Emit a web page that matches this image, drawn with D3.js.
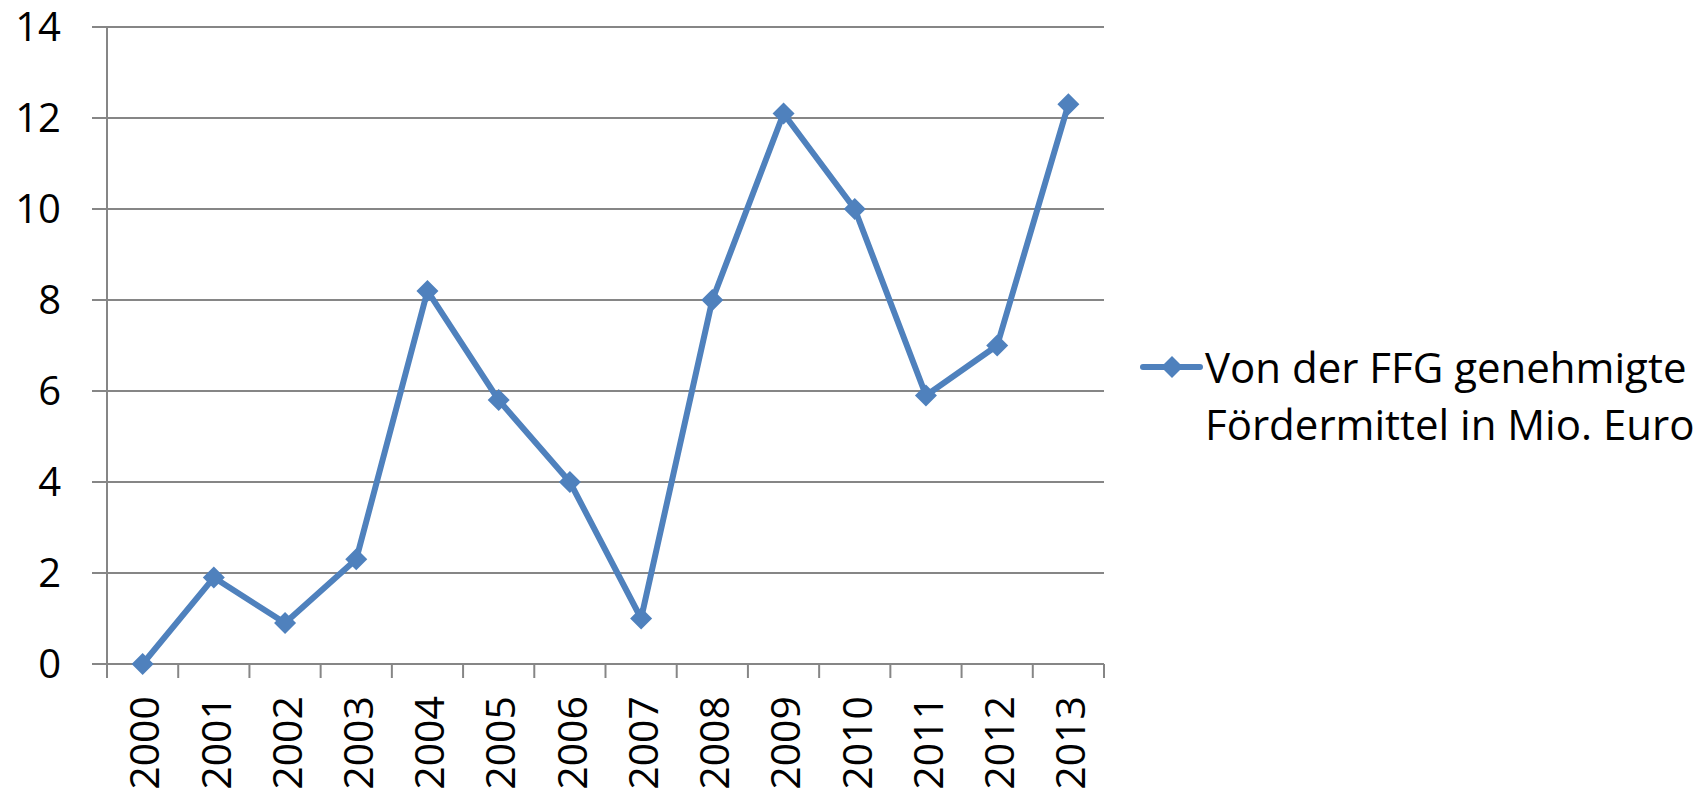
<!DOCTYPE html>
<html lang="de">
<head>
<meta charset="utf-8">
<title>FFG Fördermittel</title>
<script src="https://d3js.org/d3.v7.min.js"></script>
<style>
    body { margin: 0; background: #fff; }
    svg text { font-family: "Open Sans", sans-serif; fill: #000; }
</style>
</head>
<body>
<div id="chart"></div>
<script>
    // Data
    const years = ["2000", "2001", "2002", "2003", "2004", "2005", "2006",
                   "2007", "2008", "2009", "2010", "2011", "2012", "2013"];
    const values = [0, 1.9, 0.9, 2.3, 8.2, 5.8, 4.0, 1.0, 8.0, 12.1, 10.0, 5.9, 7.0, 12.3];
    const yTicks = [0, 2, 4, 6, 8, 10, 12, 14];
    const legendLines = ["Von der FFG genehmigte", "Fördermittel in Mio. Euro"];

    const W = 1708, H = 793;
    const plot = { left: 107, right: 1104, top: 27, bottom: 664 };
    const blue = "#4f81bd";
    const grey = "#868686";

    const svg = d3.select("#chart").append("svg")
        .attr("width", W)
        .attr("height", H);

    const x = d3.scaleBand()
        .domain(years)
        .range([plot.left, plot.right]);

    const y = d3.scaleLinear()
        .domain([0, 14])
        .range([plot.bottom, plot.top]);

    // Gridlines + y ticks (the tick extends past the axis to the left)
    svg.append("g")
        .selectAll("line")
        .data(yTicks)
        .join("line")
        .attr("x1", plot.left - 15)
        .attr("x2", plot.right)
        .attr("y1", d => y(d))
        .attr("y2", d => y(d))
        .attr("stroke", grey)
        .attr("stroke-width", 2);

    // y axis line
    svg.append("line")
        .attr("x1", plot.left).attr("x2", plot.left)
        .attr("y1", plot.top).attr("y2", plot.bottom)
        .attr("stroke", grey)
        .attr("stroke-width", 2);

    // x tick marks at category boundaries
    const bounds = years.map(d => x(d)).concat([plot.right]);
    svg.append("g")
        .selectAll("line")
        .data(bounds)
        .join("line")
        .attr("x1", d => d).attr("x2", d => d)
        .attr("y1", plot.bottom).attr("y2", plot.bottom + 14)
        .attr("stroke", grey)
        .attr("stroke-width", 2);

    // y labels
    svg.append("g")
        .selectAll("text")
        .data(yTicks)
        .join("text")
        .attr("x", 61)
        .attr("y", d => y(d))
        .attr("dy", "0.36em")
        .attr("text-anchor", "end")
        .style("font-size", "40px")
        .text(d => d);

    // x labels, rotated
    svg.append("g")
        .selectAll("text")
        .data(years)
        .join("text")
        .attr("transform", d => `translate(${x(d) + x.bandwidth() / 2 + 2},696) rotate(-90)`)
        .attr("dy", "0.36em")
        .attr("text-anchor", "end")
        .style("font-size", "41px")
        .text(d => d);

    // line + markers
    const line = d3.line()
        .x((d, i) => x(years[i]) + x.bandwidth() / 2)
        .y(d => y(d));

    svg.append("path")
        .datum(values)
        .attr("fill", "none")
        .attr("stroke", blue)
        .attr("stroke-width", 6)
        .attr("stroke-linejoin", "round")
        .attr("d", line);

    const diamond = "M0,-11L11,0L0,11L-11,0Z";
    svg.append("g")
        .selectAll("path")
        .data(values)
        .join("path")
        .attr("transform", (d, i) => `translate(${x(years[i]) + x.bandwidth() / 2},${y(d)})`)
        .attr("d", diamond)
        .attr("fill", blue);

    // legend
    const legend = svg.append("g").attr("transform", "translate(1143,367)");
    legend.append("line")
        .attr("x1", 0).attr("x2", 57)
        .attr("stroke", blue)
        .attr("stroke-width", 6)
        .attr("stroke-linecap", "round");
    legend.append("path")
        .attr("transform", "translate(29,0)")
        .attr("d", diamond)
        .attr("fill", blue);
    legend.selectAll("text")
        .data(legendLines)
        .join("text")
        .attr("x", 62)
        .attr("y", (d, i) => 16 + i * 57)
        .style("font-size", "42px")
        .text(d => d);
</script>
</body>
</html>
